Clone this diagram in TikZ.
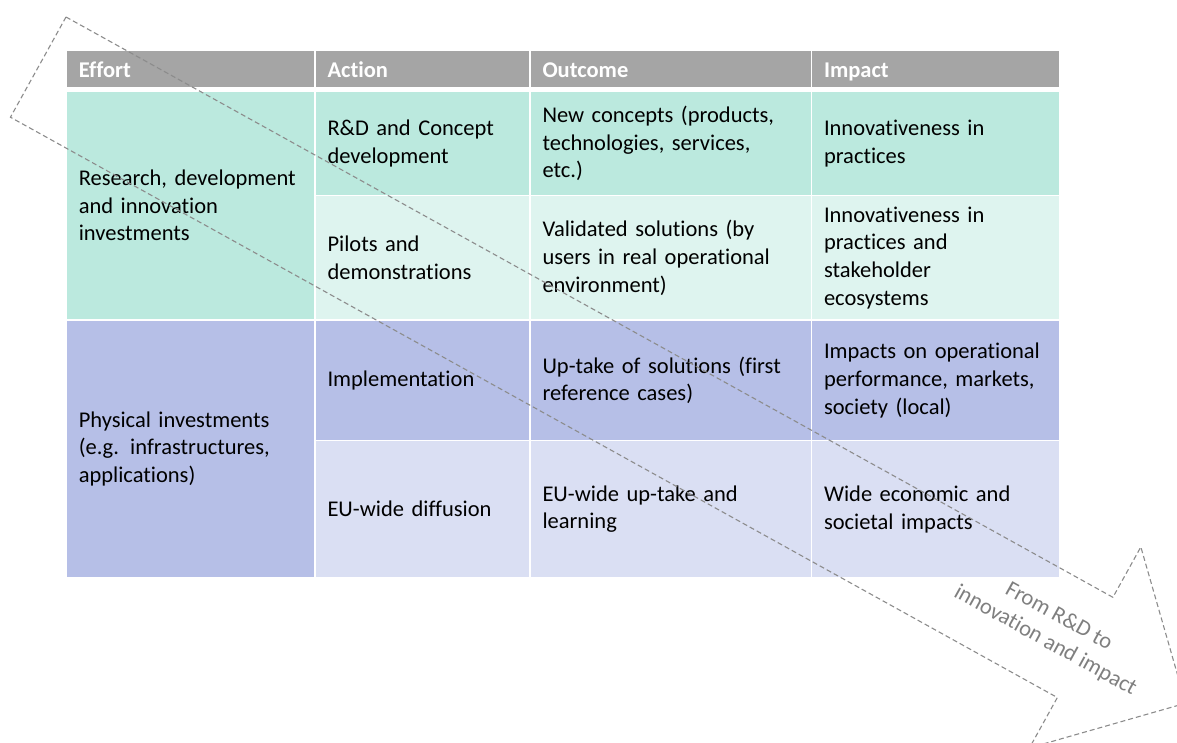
\documentclass[tikz,border=0pt]{standalone}
\usepackage{fontspec}
\setmainfont{Carlito}[Ligatures={NoCommon}]
\usepackage{xcolor}
\definecolor{headgray}{HTML}{A5A5A5}
\definecolor{tealdark}{HTML}{BBE9DE}
\definecolor{teallight}{HTML}{DEF4EF}
\definecolor{bluedark}{HTML}{B6BFE7}
\definecolor{bluelight}{HTML}{DADFF3}
\definecolor{arrowgray}{HTML}{8C8C8C}
\definecolor{labelgray}{HTML}{7F7F7F}
\newcommand{\cellfont}{\fontsize{22.5}{27.7}\selectfont}
\tikzset{
  cell/.style={draw=white, line width=1.5pt, anchor=north west, inner xsep=12.5pt, inner ysep=0pt, outer sep=0pt, align=left},
  hcell/.style={cell, fill=headgray, text=white, font=\bfseries\cellfont, text height=18pt, text depth=2pt},
  arrowline/.style={draw=arrowgray, line width=1.1pt, dash pattern=on 5pt off 3pt}
}

\begin{document}
\begin{tikzpicture}[x=1pt, y=-1pt, font=\cellfont]
  \useasboundingbox (0,0) rectangle (1177,742);
  \foreach \x/\w/\t [count=\i] in {66.25/248.75/Effort,315/215/Action,530/281.5/Outcome,811.5/247.75/Impact}
  { \pgfmathsetmacro\tw{\w-25}
    \node[hcell, text width=\tw pt, minimum height=38pt] (head\i) at (\x,50) {\t}; }
  \node[cell, fill=tealdark, text width=223.75pt, minimum height=229pt] (eff1) at (66.25,91) {Research, development\\and innovation\\investments};
  \node[cell, fill=tealdark, text width=190pt, minimum height=104.7pt] (act1) at (eff1.north east) {R\&D and Concept\\development};
  \node[cell, fill=tealdark, text width=256.5pt, minimum height=104.7pt] (out1) at (act1.north east) {New concepts (products,\\technologies, services,\\etc.)};
  \node[cell, fill=tealdark, text width=222.75pt, minimum height=104.7pt] (imp1) at (out1.north east) {Innovativeness in\\practices};
  \node[cell, fill=teallight, text width=190pt, minimum height=124.3pt] (act2) at (act1.south west) {Pilots and\\demonstrations};
  \node[cell, fill=teallight, text width=256.5pt, minimum height=124.3pt] (out2) at (act2.north east) {Validated solutions (by\\users in real operational\\environment)};
  \node[cell, fill=teallight, text width=222.75pt, minimum height=124.3pt] (imp2) at (out2.north east) {Innovativeness in\\practices and\\stakeholder\\ecosystems};
  \node[cell, fill=bluedark, text width=223.75pt, minimum height=257.75pt] (eff2) at (eff1.south west) {Physical investments\\(e.g. infrastructures,\\applications)};
  \node[cell, fill=bluedark, text width=190pt, minimum height=120.7pt] (act3) at (eff2.north east) {Implementation};
  \node[cell, fill=bluedark, text width=256.5pt, minimum height=120.7pt] (out3) at (act3.north east) {Up-take of solutions (first\\reference cases)};
  \node[cell, fill=bluedark, text width=222.75pt, minimum height=120.7pt] (imp3) at (out3.north east) {Impacts on operational\\performance, markets,\\society (local)};
  \node[cell, fill=bluelight, text width=190pt, minimum height=137.05pt] (act4) at (act3.south west) {EU-wide diffusion};
  \node[cell, fill=bluelight, text width=256.5pt, minimum height=137.05pt] (out4) at (act4.north east) {EU-wide up-take and\\learning};
  \node[cell, fill=bluelight, text width=222.75pt, minimum height=137.05pt] (imp4) at (out4.north east) {Wide economic and\\societal impacts};
  \begin{scope}[shift={(66,17)}, x={(0.8746pt,-0.4848pt)}, y={(-0.4848pt,-0.8746pt)}]
    \draw[arrowline] (0,0) -- (1197,0) -- (1197,-57.6) -- (1312,57.3) -- (1197,172.2) -- (1197,114.6) -- (0,114.6) -- cycle;
    \node[rotate=-29, text=labelgray, align=center] (label) at (1159,57) {From R\&D to\\innovation and impact};
  \end{scope}
\end{tikzpicture}
\end{document}
